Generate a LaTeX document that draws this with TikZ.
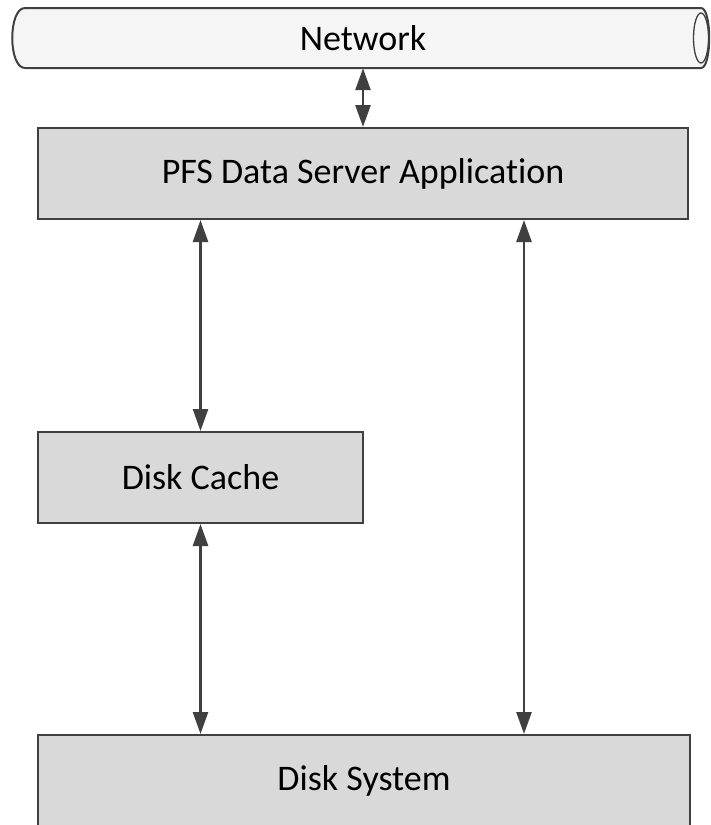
\documentclass[tikz,border=0pt]{standalone}
\usepackage{fontspec}
\setmainfont[Ligatures=NoCommon]{Carlito}
\usetikzlibrary{arrows.meta,calc}
\definecolor{boxfill}{HTML}{D9D9D9}
\definecolor{edge}{HTML}{404040}
\tikzset{
  label36/.style={font=\fontsize{36}{42}\selectfont},
  block/.style={draw=edge, line width=2pt, fill=boxfill, label36, inner sep=0pt},
  link/.style={draw=edge, line width=2.6pt, {Triangle[length=22pt,width=15pt]}-{Triangle[length=22pt,width=15pt]}},
  pipe/.style={draw=edge, line width=2pt},
}
\begin{document}
\begin{tikzpicture}[x=1pt,y=-1pt]
\useasboundingbox (0,0) rectangle (710,825);
\clip (0,0) rectangle (710,825);
% network pipe
\shade[top color=gray!8, middle color=gray!24, bottom color=gray!8]
  (25,8) -- (701,8) .. controls (712,8) and (712,68) .. (701,68) -- (25,68)
  .. controls (8,68) and (8,8) .. (25,8) -- cycle;
\draw[pipe]
  (25,8) -- (701,8) .. controls (712,8) and (712,68) .. (701,68) -- (25,68)
  .. controls (8,68) and (8,8) .. (25,8) -- cycle;
\draw[edge, line width=1.3pt, fill=white!94!gray] (701,38) ellipse [x radius=7.5pt, y radius=25pt];
\node[label36, inner sep=0pt, minimum width=690pt, minimum height=60pt] (net) at (363,38) {Network};
% blocks
\node[block, minimum width=650pt, minimum height=91pt] (pfs) at (363,173.5) {PFS Data Server Application};
\node[block, minimum width=325pt, minimum height=91pt] (cache) at (200.5,477.5) {Disk Cache};
\node[block, minimum width=652pt, minimum height=91pt] (sys) at (364,780.5) {Disk System};
\coordinate (r) at (524,0);
\draw[link] (pfs.north) -- (pfs.north |- net.south);
\draw[link] (cache.north) -- (cache.north |- pfs.south);
\draw[link] (cache.south) -- (cache.south |- sys.north);
\draw[link] (r |- pfs.south) -- (r |- sys.north);
\end{tikzpicture}
\end{document}
